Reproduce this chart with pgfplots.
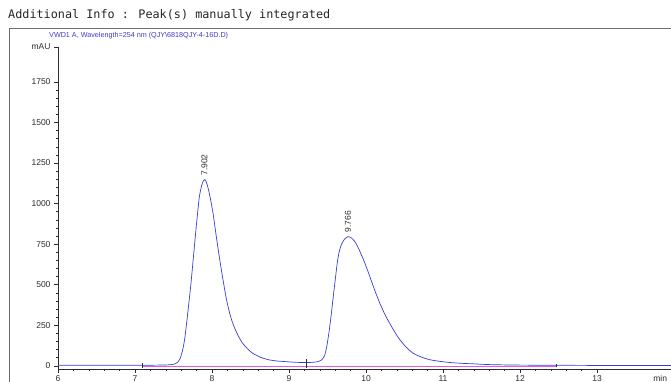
\documentclass[border=0pt]{standalone}
\usepackage{fontspec}
\setmainfont{Liberation Sans}
\newfontfamily\monofont{DejaVu Sans Mono}
\usepackage{pgfplots}
\pgfplotsset{compat=1.18}
\definecolor{sig}{RGB}{60,60,215}
\definecolor{basec}{RGB}{225,90,225}
\definecolor{framec}{RGB}{110,110,110}
\definecolor{tickc}{RGB}{45,45,45}
\pgfplotstableread{
x y
6.00 3
6.50 3
7.00 3
7.30 4
7.45 6
7.52 12
7.56 25
7.59 50
7.62 100
7.645 165
7.675 283
7.70 390
7.725 500
7.755 653
7.795 858
7.835 1040
7.865 1110
7.885 1138
7.905 1147
7.925 1135
7.955 1084
7.985 1015
8.015 935
8.04 850
8.065 765
8.10 655
8.135 552
8.165 468
8.195 392
8.24 305
8.285 242
8.34 185
8.395 140
8.46 105
8.525 78
8.63 52
8.735 37
8.85 29
9.00 24
9.10 21
9.20 20
9.30 21
9.37 25
9.42 35
9.46 60
9.49 119
9.52 210
9.55 324
9.575 430
9.60 530
9.625 630
9.65 700
9.68 748
9.72 780
9.766 796
9.81 788
9.86 762
9.91 716
9.97 650
10.02 588
10.07 522
10.125 450
10.18 384
10.245 316
10.31 259
10.375 206
10.44 160
10.52 115
10.61 78
10.72 53
10.83 37
10.96 27
11.09 20
11.24 15
11.39 12
11.55 8
11.70 6
12.00 4
12.50 3
13.00 2
13.96 2
}\signal
\begin{document}
\begin{tikzpicture}
\useasboundingbox (0pt,0pt) rectangle (671pt,382pt);
\clip (0pt,0pt) rectangle (671pt,382pt);
\fill[white] (0pt,0pt) rectangle (671pt,382pt);
\draw[framec, line width=0.8pt] (9pt,-5pt) -- (9pt,354pt) -- (680pt,354pt);
\node[anchor=base west, inner sep=0pt, font=\monofont\fontsize{11.8}{13}\selectfont, text=black!85] at (8pt,363.5pt) {Additional Info : Peak(s) manually integrated};
\node[anchor=base west, inner sep=0pt, font=\fontsize{7.2}{9}\selectfont, text=sig] at (49pt,344pt) {VWD1 A, Wavelength=254 nm (QJY\textbackslash 6818QJY-4-16D.D)};
\begin{axis}[
  scale only axis, width=613pt, height=322pt,
  at={(58pt,13pt)}, anchor=south west,
  xmin=6, xmax=13.96, ymin=-20, ymax=1965,
  axis lines*=left,
  axis line style={tickc, line width=0.6pt},
  tick style={tickc, line width=0.5pt},
  tick align=outside,
  major tick length=4pt, minor tick length=2pt,
  xtick={6,...,13}, minor x tick num=4,
  ytick={0,250,...,1750}, minor y tick num=4,
  extra y ticks={1965}, extra y tick labels={mAU},
  ticklabel style={font=\fontsize{8.5}{10}\selectfont, text=tickc},
  xticklabel style={inner sep=1pt, yshift=-1pt},
  /pgf/number format/assume math mode=true,
  /pgf/number format/1000 sep={},
  clip=false,
]
\addplot[basec, line width=1pt] coordinates {(7.1,-4) (12.47,-4)};
\addplot[sig, line width=0.7pt, smooth, tension=0.35] table[x=x,y=y] {\signal};
\addplot[tickc, line width=0.5pt] coordinates {(7.1,-12) (7.1,20)};
\addplot[tickc, line width=0.5pt] coordinates {(9.22,-15) (9.22,40)};
\addplot[tickc, line width=0.5pt] coordinates {(12.47,-10) (12.47,12)};
\node[rotate=90, anchor=west, inner sep=1pt, font=\fontsize{8.5}{10}\selectfont, text=tickc] at (axis cs:7.902,1165) {7.902};
\node[rotate=90, anchor=west, inner sep=1pt, font=\fontsize{8.5}{10}\selectfont, text=tickc] at (axis cs:9.766,815) {9.766};
\node[anchor=north, inner sep=1pt, font=\fontsize{8.5}{10}\selectfont, text=tickc] at (axis cs:13.82,-20) [yshift=-5pt] {min};
\end{axis}
\end{tikzpicture}
\end{document}
